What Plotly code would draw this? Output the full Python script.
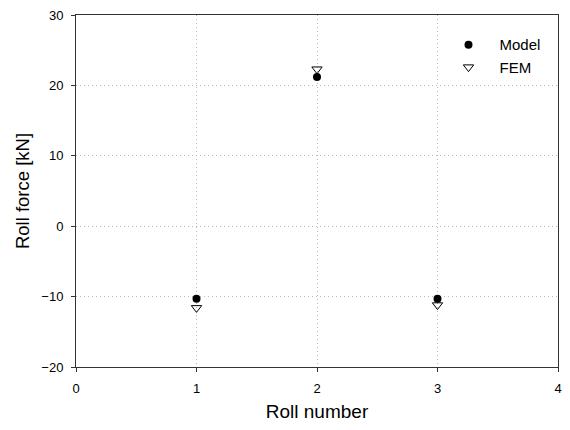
import plotly.graph_objects as go

rolls = [1, 2, 3]
model = [-10.3, 21.2, -10.3]
fem = [-11.6, 22.3, -11.2]
x_ticks = [0, 1, 2, 3, 4]
y_ticks = [-20, -10, 0, 10, 20, 30]

fig = go.Figure()
fig.add_trace(go.Scatter(x=rolls, y=model, mode="markers", name="Model",
                         marker=dict(symbol="circle", size=8, color="black")))
fig.add_trace(go.Scatter(x=rolls, y=fem, mode="markers", name="FEM",
                         marker=dict(symbol="triangle-down-open", size=9, color="black",
                                     line=dict(width=1, color="black"))))

axis_common = dict(showline=True, linecolor="#333", linewidth=1, mirror=True,
                   ticks="outside", ticklen=4, tickcolor="#333",
                   showgrid=True, gridcolor="#b8b8b8", griddash="1px,3px", gridwidth=1,
                   zeroline=False, automargin=False, ticklabelstandoff=5,
                   ticklabeloverflow="allow",
                   tickfont=dict(size=13, color="black"))

# page body has an 8px margin on every side, so the figure is sized to fit
# inside the window without scrollbars
fig.update_layout(
    width=562, height=414,
    margin=dict(l=68, r=12, t=7, b=55),
    paper_bgcolor="white", plot_bgcolor="white",
    font=dict(family="Liberation Sans, Arial, sans-serif", color="black"),
    xaxis=dict(range=[0, 4], tickvals=x_ticks,
               title=dict(text="Roll number", font=dict(size=19), standoff=18), **axis_common),
    yaxis=dict(range=[-20, 30], tickvals=y_ticks,
               title=dict(text="Roll force [kN]", font=dict(size=18.5), standoff=6), **axis_common),
    legend=dict(x=0.75, y=0.962, xanchor="left", yanchor="top", bgcolor="rgba(0,0,0,0)",
                font=dict(size=15), itemwidth=52, tracegroupgap=0),
    showlegend=True,
)
fig.write_html("out.html")
